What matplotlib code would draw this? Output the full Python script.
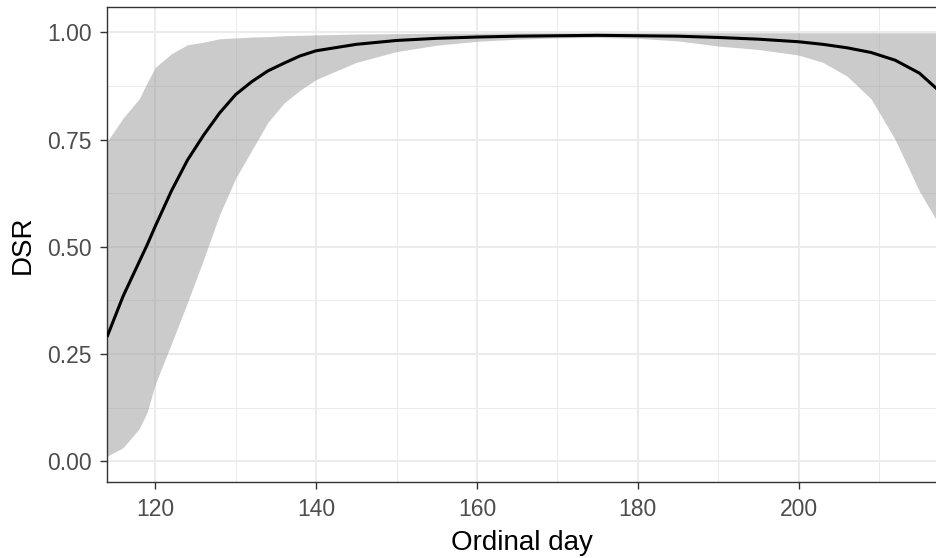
import numpy as np
import matplotlib
matplotlib.use("Agg")
from matplotlib import pyplot as plt
from matplotlib.ticker import MultipleLocator

plt.rcParams['font.family'] = ['Liberation Sans', 'DejaVu Sans']

# daily survival rate by ordinal day, with its confidence band
day = [114, 116, 118, 119, 120, 122, 124, 126, 128, 130, 132, 134, 136, 138,
       140, 145, 150, 155, 160, 165, 170, 175, 180, 185, 190, 195, 200, 203,
       206, 209, 212, 215, 217.2]
dsr = [0.290, 0.385, 0.465, 0.505, 0.548, 0.630, 0.702, 0.760, 0.812, 0.855,
       0.885, 0.910, 0.928, 0.945, 0.957, 0.972, 0.981, 0.986, 0.989, 0.991,
       0.992, 0.993, 0.992, 0.991, 0.988, 0.984, 0.978, 0.972, 0.964, 0.953,
       0.935, 0.905, 0.868]
lower = [0.012, 0.032, 0.076, 0.115, 0.180, 0.274, 0.370, 0.470, 0.575, 0.660,
         0.725, 0.790, 0.835, 0.865, 0.890, 0.930, 0.955, 0.970, 0.979, 0.984,
         0.987, 0.988, 0.986, 0.980, 0.968, 0.960, 0.947, 0.930, 0.898, 0.845,
         0.750, 0.630, 0.560]
upper = [0.745, 0.800, 0.845, 0.883, 0.918, 0.950, 0.971, 0.977, 0.985, 0.987,
         0.989, 0.990, 0.992, 0.993, 0.994, 0.996, 0.997, 0.998, 0.998, 0.999,
         0.999, 0.999, 0.999, 0.999, 0.999, 0.999, 0.999, 0.999, 0.999, 0.999,
         0.999, 0.999, 0.999]

fig = plt.figure(figsize=(9.37, 5.58), dpi=100)
ax = fig.add_axes([107/937, 76/558, 1 - 107/937, 475/558])

ax.fill_between(day, lower, upper, color='#999999', alpha=0.5, lw=0, zorder=2)
ax.plot(day, dsr, color='black', lw=2.2, zorder=3, solid_capstyle='butt')

ax.set_xlim(114, 217.2)
ax.set_ylim(-0.048, 1.059)
ax.xaxis.set_major_locator(MultipleLocator(20))
ax.xaxis.set_minor_locator(MultipleLocator(10))
ax.yaxis.set_major_locator(MultipleLocator(0.25))
ax.yaxis.set_minor_locator(MultipleLocator(0.125))
ax.yaxis.set_major_formatter(matplotlib.ticker.FormatStrFormatter('%.2f'))

ax.grid(which='major', color='#EBEBEB', lw=1.5, zorder=0)
ax.grid(which='minor', color='#EBEBEB', lw=0.75, zorder=0)
ax.set_axisbelow(True)

for side in ['left', 'bottom', 'top']:
    ax.spines[side].set_color('#333333')
    ax.spines[side].set_linewidth(1.0)
ax.spines['right'].set_visible(False)

ax.tick_params(which='major', direction='out', length=5.3, width=1.0,
               color='#333333', labelcolor='#4D4D4D', labelsize=16.5, pad=6.5)
ax.tick_params(which='minor', length=0)
ax.tick_params(axis='y', pad=5.8)

ax.set_xlabel('Ordinal day', fontsize=20, color='black', labelpad=6)
ax.set_ylabel('DSR', fontsize=20, color='black', labelpad=8)

fig.savefig('out.png', dpi=100)
